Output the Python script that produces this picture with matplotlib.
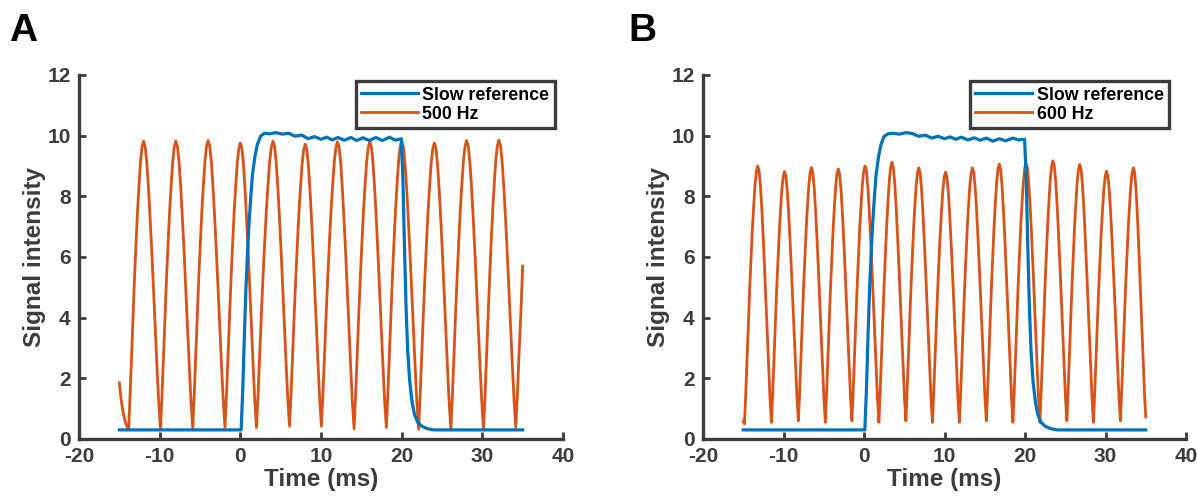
import numpy as np
import matplotlib
matplotlib.use("Agg")
import matplotlib.pyplot as plt

plt.rcParams["font.family"] = ["Liberation Sans", "DejaVu Sans"]
plt.rcParams["font.weight"] = "bold"
plt.rcParams["axes.unicode_minus"] = False

BLUE = "#0072BD"
ORANGE = "#D95319"
GRAY = "#3c3c3c"

# one cycle of the fast signal (time fraction, height fraction)
RISE_FT = [0.0, 0.1, 0.2, 0.3, 0.4, 0.5, 0.6, 0.7, 0.8, 0.9, 1.0]
RISE_FV = [0.0, 0.12, 0.26, 0.40, 0.53, 0.65, 0.76, 0.85, 0.93, 0.98, 1.0]
FALL_FT = [0.0, 0.1, 0.2, 0.3, 0.4, 0.5, 0.6, 0.7, 0.8, 0.9, 1.0]
FALL_FV = [1.0, 0.98, 0.92, 0.83, 0.72, 0.6, 0.47, 0.34, 0.21, 0.09, 0.0]

# panel A: 500 Hz
PEAK_T_A = [-12.0, -8.0, -4.0, 0.0, 4.05, 8.05, 12.05, 16.05, 20.0, 24.05, 28.05, 32.05]
PEAK_V_A = [9.82, 9.82, 9.84, 9.76, 9.82, 9.72, 9.8, 9.8, 9.82, 9.76, 9.84, 9.85]
TROUGH_T_A = [-13.85, -9.9, -5.9, -1.9, 2.0, 6.1, 10.05, 14.1, 18.1, 22.1, 26.1, 30.15, 34.15]
TROUGH_V_A = [0.32, 0.32, 0.36, 0.38, 0.38, 0.42, 0.42, 0.34, 0.38, 0.32, 0.32, 0.32, 0.38]
START_T_A = [-15.0, -14.8, -14.55, -14.25, -14.0]
START_V_A = [1.85, 1.35, 0.9, 0.55, 0.38]
END_T_A = [34.35, 34.55, 34.8, 35.0]
END_V_A = [1.5, 2.8, 4.3, 5.7]

# panel B: 600 Hz
PEAK_T_B = [-13.2, -9.87, -6.53, -3.2, 0.13, 3.47, 6.8, 10.13, 13.47, 16.8, 20.13, 23.47, 26.8, 30.13, 33.47]
PEAK_V_B = [9.0, 8.82, 8.95, 8.9, 9.0, 9.12, 8.94, 8.8, 8.94, 9.06, 9.1, 9.17, 9.05, 8.83, 8.94]
TROUGH_T_B = [-14.85, -11.5, -8.15, -4.8, -1.5, 1.85, 5.2, 8.5, 11.85, 15.2, 18.5, 21.85, 25.2, 28.5, 31.85, 35.0]
TROUGH_V_B = [0.5, 0.55, 0.6, 0.55, 0.6, 0.55, 0.6, 0.55, 0.55, 0.6, 0.55, 0.55, 0.6, 0.55, 0.6, 0.73]
START_T_B = [-15.0]
START_V_B = [0.58]
END_T_B = []
END_V_B = []

# slow reference step
REF_T_A = [-15, 0.1, 0.3, 0.5, 0.7, 0.9, 1.1, 1.3, 1.5, 1.8, 2.1, 2.5, 3.0, 3.6, 4.4, 5.2,
           6.0, 6.8, 7.6, 8.4, 9.2, 10.0, 10.7, 11.4, 12.1, 12.9, 13.7, 14.4, 15.2, 16.0,
           16.8, 17.6, 18.5, 19.2, 19.95, 20.15, 20.35, 20.55, 20.75, 21.0, 21.3, 21.6,
           22.0, 22.5, 23.2, 24.0, 35]
REF_V_A = [0.3, 0.3, 1.6, 3.4, 5.0, 6.2, 7.2, 8.0, 8.7, 9.3, 9.7, 9.98, 10.08, 10.06, 10.1, 10.05,
           10.08, 9.98, 10.02, 9.9, 9.97, 9.88, 9.95, 9.86, 9.94, 9.85, 9.94, 9.84, 9.93, 9.84,
           9.94, 9.84, 9.95, 9.85, 9.9, 8.6, 6.3, 4.3, 2.9, 1.9, 1.2, 0.8,
           0.55, 0.42, 0.34, 0.3, 0.3]
REF_T_B = REF_T_A
REF_V_B = [0.3, 0.3, 1.6, 3.4, 5.0, 6.2, 7.2, 8.0, 8.7, 9.3, 9.7, 9.98, 10.06, 10.08, 10.05, 10.1,
           10.07, 9.98, 10.02, 9.92, 9.98, 9.9, 9.96, 9.88, 9.95, 9.86, 9.93, 9.85, 9.92, 9.82,
           9.9, 9.83, 9.92, 9.86, 9.88, 8.6, 6.3, 4.3, 2.9, 1.9, 1.2, 0.8,
           0.55, 0.42, 0.34, 0.3, 0.3]


def fast_signal(peak_t, peak_v, trough_t, trough_v, start_t, start_v, end_t, end_v):
    ts, vs = list(start_t), list(start_v)
    for i in range(len(trough_t) - 1):
        t0, v0 = trough_t[i], trough_v[i]
        t1, v1 = peak_t[i], peak_v[i]
        t2, v2 = trough_t[i + 1], trough_v[i + 1]
        ts += [t0 + f * (t1 - t0) for f in RISE_FT[:-1]]
        vs += [v0 + f * (v1 - v0) for f in RISE_FV[:-1]]
        ts += [t1 + f * (t2 - t1) for f in FALL_FT[:-1]]
        vs += [v2 + f * (v1 - v2) for f in FALL_FV[:-1]]
    ts.append(trough_t[-1])
    vs.append(trough_v[-1])
    return ts + list(end_t), vs + list(end_v)


def panel(fig, rect, letter, letter_x, label, fast, ref, leg_x):
    ax = fig.add_axes(rect)
    ax.plot(ref[0], ref[1], color=BLUE, lw=2.3, label="Slow reference", zorder=3)
    ax.plot(fast[0], fast[1], color=ORANGE, lw=2.0, label=label, zorder=2)

    ax.set_xlim(-20, 40)
    ax.set_ylim(0, 12)
    ax.set_xticks(range(-20, 41, 10))
    ax.set_yticks(range(0, 13, 2))
    for side in ["top", "right"]:
        ax.spines[side].set_visible(False)
    for side in ["left", "bottom"]:
        ax.spines[side].set_color(GRAY)
        ax.spines[side].set_linewidth(2.4)
    ax.tick_params(direction="in", length=5, width=2, colors=GRAY, labelsize=15, pad=6)
    ax.set_xlabel("Time (ms)", fontsize=17.5, fontweight="bold", color=GRAY, labelpad=1)
    ax.set_ylabel("Signal intensity", fontsize=17.5, fontweight="bold", color=GRAY, labelpad=1)

    leg = ax.legend(loc="upper right", bbox_to_anchor=(leg_x, 0.983), borderaxespad=0,
                    fancybox=False, framealpha=1, handlelength=3.2, handletextpad=0.25,
                    labelspacing=0.12, borderpad=0.3, prop={"size": 12.8, "weight": "bold"})
    leg.get_frame().set_edgecolor(GRAY)
    leg.get_frame().set_linewidth(2.4)

    fig.text(letter_x, 0.974, letter, fontsize=28, fontweight="bold", ha="left", va="top")
    return ax


def main():
    fig = plt.figure(figsize=(11.97, 4.97), dpi=100)
    fast_a = fast_signal(PEAK_T_A, PEAK_V_A, TROUGH_T_A, TROUGH_V_A, START_T_A, START_V_A, END_T_A, END_V_A)
    fast_b = fast_signal(PEAK_T_B, PEAK_V_B, TROUGH_T_B, TROUGH_V_B, START_T_B, START_V_B, END_T_B, END_V_B)

    panel(fig, [79 / 1197, 58 / 497, 484 / 1197, 364 / 497], "A", 9 / 1197, "500 Hz",
          fast_a, (REF_T_A, REF_V_A), 0.983)
    panel(fig, [703 / 1197, 58 / 497, 483 / 1197, 364 / 497], "B", 628 / 1197, "600 Hz",
          fast_b, (REF_T_B, REF_V_B), 0.965)

    fig.savefig("out.png", dpi=100)
    plt.close(fig)


if __name__ == "__main__":
    main()
